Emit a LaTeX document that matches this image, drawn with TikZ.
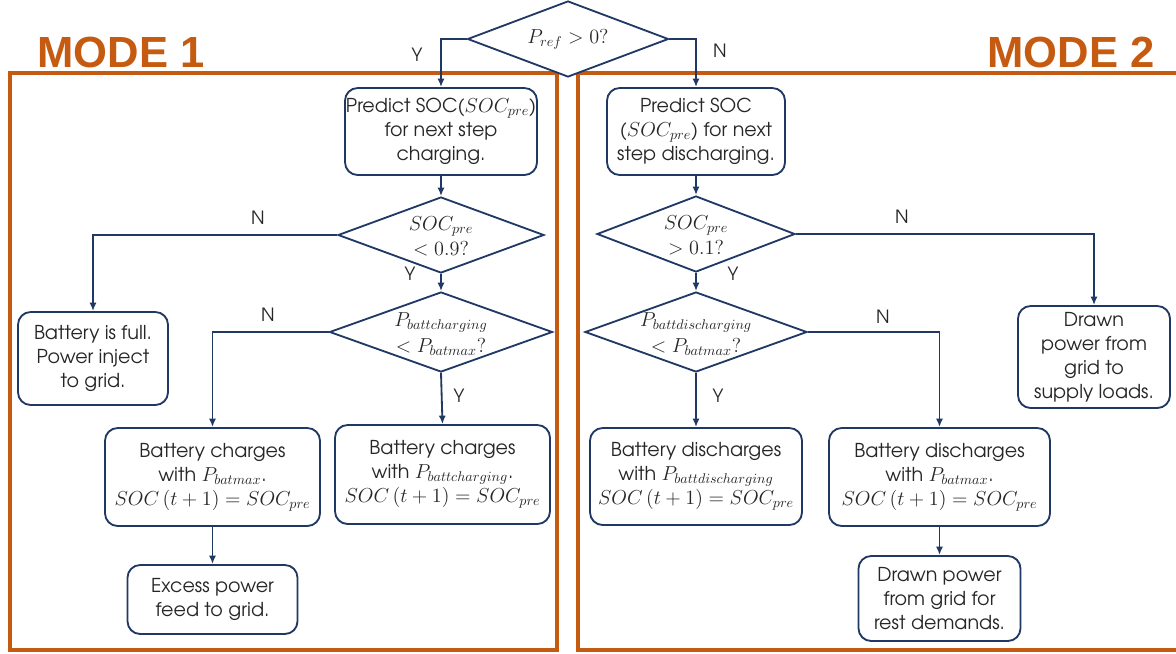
\documentclass[tikz,border=0pt]{standalone}
\usepackage{fontspec}
\setmainfont{texgyreadventor}[Extension=.otf,UprightFont=*-regular,BoldFont=*-bold,ItalicFont=*-italic,BoldItalicFont=*-bolditalic]
\newfontfamily\modefont{Liberation Sans}
\usetikzlibrary{shapes.geometric,arrows.meta}
\definecolor{navy}{HTML}{203864}
\definecolor{orng}{HTML}{C55A11}
\definecolor{txt}{HTML}{262626}
\newcommand\pxl{0.025cm}
\newcommand\mm[1]{{\fontsize{14.8}{17}\selectfont$#1$}}
\begin{document}
\begin{tikzpicture}[x=0.025cm,y=-0.025cm,
  font=\fontsize{13.6}{17}\selectfont, text=txt,
  box/.style n args={2}{draw=navy, line width=1.3pt, rounded corners=9pt, align=center, inner sep=0pt,
    minimum width=#1*\pxl, minimum height=#2*\pxl, fill=white},
  dia/.style n args={2}{draw=navy, line width=1.3pt, diamond, inner sep=0pt, fill=white,
    minimum width=#1*\pxl, minimum height=#2*\pxl},
  dtxt/.style={align=center, inner sep=0pt},
  lab/.style={font=\fontsize{13}{14}\selectfont},
  arr/.style={draw=navy, line width=1.3pt, -{Latex[length=6pt,width=5pt]}},
  frame/.style={draw=orng, line width=2.2pt},
  mode/.style={font=\modefont\bfseries\fontsize{31}{31}\selectfont, text=orng}]
\useasboundingbox (0,0) rectangle (1176,653);

% frames and titles
\draw[frame] (10,73) rectangle (557,650);
\draw[frame] (1182,73) -- (578,73) -- (578,650) -- (1182,650);
\node[mode] (m1) at (121,52) {MODE 1};
\node[mode] (m2) at (1071,52) {MODE 2};

% top decision
\node[dia={201}{76}] (d0) at (568,39) {};
\node[dtxt] (d0t) at (568,39) {\mm{P_{ref} > 0?}};

% MODE 1
\node[box={192}{87}] (pL) at (441,131.5) {Predict SOC(\mm{SOC_{pre}})\\for next step\\charging.};
\node[dia={206}{76}] (d1) at (441,235) {};
\node[dtxt] (d1t) at (441,236) {\mm{SOC_{pre}}\\[1pt]\mm{< 0.9?}};
\node[dia={223}{80}] (d2) at (441,332) {};
\node[dtxt] (d2t) at (441,334) {\mm{P_{battcharging}}\\[1pt]\mm{< P_{batmax}?}};
\node[box={150}{93}] (full) at (93,358.5) {Battery is full.\\Power inject\\to grid.};
\node[box={215}{98}] (cmax) at (212.5,477) {Battery charges\\with \mm{P_{batmax}}.\\\mm{SOC\,(t+1) = SOC_{pre}}};
\node[box={215}{99}] (cbc) at (442.5,474.5) {Battery charges\\with \mm{P_{battcharging}}.\\\mm{SOC\,(t+1) = SOC_{pre}}};
\node[box={170}{69}] (exc) at (212.5,599.5) {Excess power\\feed to grid.};

% MODE 2
\node[box={178}{87}] (pR) at (696,131.5) {Predict SOC\\(\mm{SOC_{pre}}) for next\\step discharging.};
\node[dia={198}{76}] (dR1) at (696,234) {};
\node[dtxt] (dR1t) at (696,235) {\mm{SOC_{pre}}\\[1pt]\mm{> 0.1?}};
\node[dia={222}{80}] (dR2) at (696,332) {};
\node[dtxt] (dR2t) at (696,334) {\mm{P_{battdischarging}}\\[1pt]\mm{< P_{batmax}?}};
\node[box={152}{102}] (sup) at (1094,357) {Drawn\\power from\\grid to\\supply loads.};
\node[box={212}{97}] (dbd) at (696,476.5) {Battery discharges\\with \mm{P_{battdischarging}}\\\mm{SOC\,(t+1) = SOC_{pre}}};
\node[box={221}{98}] (dmax) at (939.5,477) {Battery discharges\\with \mm{P_{batmax}}.\\\mm{SOC\,(t+1) = SOC_{pre}}};
\node[box={162}{85}] (rest) at (939.5,598.5) {Drawn power\\from grid for\\rest demands.};

% connectors
\draw[arr] (d0.west) -| (pL.north);
\draw[arr] (d0.east) -| (pR.north);
\draw[arr] (pL.south) -- (d1.north);
\draw[arr] (d1.west) -| (full.north);
\draw[arr] (d1.south) -- (d2.north);
\draw[arr] (d2.west) -| (cmax.north);
\draw[arr] (d2.south) -- (cbc.north);
\draw[arr] (cmax.south) -- (exc.north);
\draw[arr] (pR.south) -- (dR1.north);
\draw[arr] (dR1.east) -| (sup.north);
\draw[arr] (dR1.south) -- (dR2.north);
\draw[arr] (dR2.east) -| (dmax.north);
\draw[arr] (dR2.south) -- (dbd.north);
\draw[arr] (dmax.south) -- (rest.north);

% branch labels
\node[lab] (y0) at (417,55) {Y};
\node[lab] (n0) at (720,51) {N};
\node[lab] (n1) at (258,218) {N};
\node[lab] (y1) at (410,274) {Y};
\node[lab] (n2) at (268,315) {N};
\node[lab] (y2) at (459,396) {Y};
\node[lab] (n3) at (902,217) {N};
\node[lab] (y3) at (733,274) {Y};
\node[lab] (n4) at (883,317) {N};
\node[lab] (y4) at (718,396) {Y};
\end{tikzpicture}
\end{document}
